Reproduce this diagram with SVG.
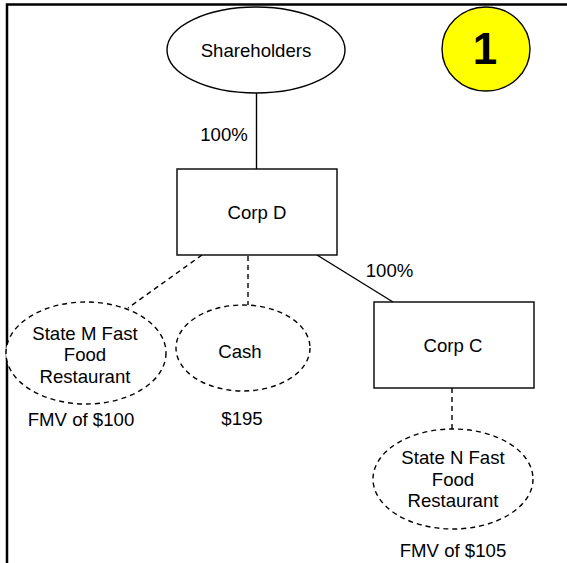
<svg xmlns="http://www.w3.org/2000/svg" width="567" height="563" viewBox="0 0 567 563">
<style>
text{font-family:"Liberation Sans",Arial,sans-serif;font-size:18.6px;fill:#000;text-anchor:middle}
.solid{fill:#fff;stroke:#000;stroke-width:1.4}
.dash{fill:#fff;stroke:#000;stroke-width:1.4;stroke-dasharray:5,4}
.line{stroke:#000;stroke-width:1.4;fill:none}
.dline{stroke:#000;stroke-width:1.4;fill:none;stroke-dasharray:5,4}
</style>
<rect width="567" height="563" fill="#fff"/>
<g id="frame"><path d="M7 563 V4.5 H567" fill="none" stroke="#000" stroke-width="2.5"/></g>
<g id="connectors">
<line class="line" x1="256.5" y1="93" x2="256.5" y2="169"/>
<line class="dline" x1="202" y1="255" x2="128" y2="308"/>
<line class="dline" x1="248" y1="256" x2="248" y2="305"/>
<line class="line" x1="317" y1="255" x2="393" y2="302"/>
<line class="dline" x1="452" y1="388" x2="452" y2="429"/>
<text x="224" y="141">100%</text>
<text x="389.5" y="277">100%</text>
</g>
<g id="shareholders"><ellipse class="solid" cx="256" cy="50" rx="89" ry="43"/><text x="256" y="57">Shareholders</text></g>
<g id="badge"><ellipse cx="486" cy="49" rx="44" ry="42" fill="#ffff00" stroke="#000" stroke-width="1.4"/><text x="485" y="64" style="font-size:44px;font-weight:bold">1</text></g>
<g id="corpD"><rect class="solid" x="177" y="169" width="160" height="86"/><text x="257" y="219">Corp D</text></g>
<g id="stateM"><ellipse class="dash" cx="86" cy="353" rx="80" ry="51"/><text x="85" y="339.5">State M Fast</text><text x="85" y="361">Food</text><text x="85" y="382.5">Restaurant</text></g>
<g id="fmv100"><text x="81" y="426">FMV of $100</text></g>
<g id="cash"><ellipse class="dash" cx="243" cy="348" rx="67" ry="43"/><text x="240" y="358">Cash</text></g>
<g id="cash195"><text x="242" y="425">$195</text></g>
<g id="corpC"><rect class="solid" x="374" y="302" width="160" height="86"/><text x="453" y="352">Corp C</text></g>
<g id="stateN"><ellipse class="dash" cx="453" cy="479" rx="80" ry="50"/><text x="453" y="464">State N Fast</text><text x="453" y="486">Food</text><text x="453" y="507">Restaurant</text></g>
<g id="fmv105"><text x="453" y="557">FMV of $105</text></g>
</svg>
